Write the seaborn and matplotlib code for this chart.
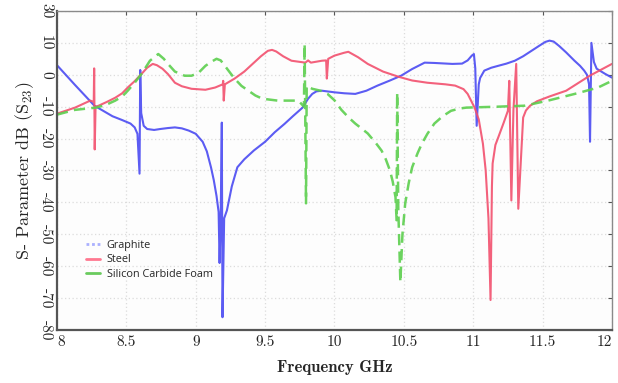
import numpy as np
import pandas as pd
import matplotlib
matplotlib.use("Agg")
import matplotlib.pyplot as plt
from matplotlib.lines import Line2D
import seaborn as sns

# ---------------- data ----------------
graphite_f = [8.00, 8.13, 8.27, 8.40, 8.47, 8.53, 8.56, 8.58, 8.595, 8.600, 8.607, 8.625,
              8.65, 8.70, 8.745, 8.80, 8.85, 8.90, 8.95, 9.00, 9.05, 9.08, 9.11, 9.13,
              9.15, 9.165, 9.172, 9.18, 9.188, 9.193, 9.205, 9.225, 9.26, 9.30, 9.35,
              9.42, 9.50, 9.57, 9.64, 9.70, 9.77, 9.81, 9.84, 9.87, 9.91, 10.00, 10.07,
              10.15, 10.23, 10.31, 10.40, 10.48, 10.56, 10.65, 10.72, 10.85, 10.92, 10.96,
              10.99, 11.005, 11.015, 11.025, 11.04, 11.05, 11.08, 11.13, 11.18, 11.24,
              11.30, 11.36, 11.42, 11.48, 11.52, 11.55, 11.58, 11.62, 11.67, 11.73, 11.77,
              11.80, 11.82, 11.835, 11.842, 11.852, 11.87, 11.89, 11.95, 12.00]
graphite_db = [3, -3.2, -9.7, -13, -14.2, -15.3, -16.5, -18.5, -31, 1.5, -12, -16,
               -17, -17.3, -17, -16.7, -16.5, -16.8, -17.5, -18.5, -21, -24, -29, -33,
               -38, -43, -59, -45, -15, -76, -45, -42.5, -35, -29, -26.5,
               -23.7, -21, -18, -15.4, -13, -10.3, -7.5, -6, -5.2, -5, -5.5, -5.8,
               -6, -5, -3.4, -1.8, -0.3, 1.8, 3.8, 3.7, 3.4, 3.5, 4.5,
               6, 6.5, 2, -16, -3, -1, 1.3, 2.2, 2.8, 3.5,
               4.4, 5.8, 7.5, 9.2, 10.3, 10.7, 10.4, 9, 7, 4.4, 2.8,
               1.3, 0, -3, -21, 10, 4, 1.9, 0.3, -0.9]

steel_f = [8.00, 8.13, 8.24, 8.265, 8.268, 8.272, 8.278, 8.30, 8.36, 8.42, 8.47, 8.51,
           8.56, 8.61, 8.65, 8.69, 8.72, 8.76, 8.80, 8.85, 8.90, 8.97, 9.07, 9.14,
           9.195, 9.198, 9.202, 9.21, 9.28, 9.35, 9.41, 9.47, 9.52, 9.55, 9.58, 9.63,
           9.69, 9.79, 9.81, 9.83, 9.91, 9.94, 9.945, 9.955, 10.00, 10.07, 10.10, 10.17,
           10.24, 10.35, 10.46, 10.56, 10.67, 10.80, 10.87, 10.93, 10.96, 11.01, 11.04,
           11.07, 11.09, 11.11, 11.125, 11.135, 11.14, 11.16, 11.18, 11.22, 11.25, 11.26,
           11.275, 11.29, 11.31, 11.325, 11.36, 11.38, 11.41, 11.46, 11.55, 11.67, 11.84,
           12.00]
steel_db = [-12.2, -10.3, -8.1, -8.5, 2, -23.4, -10, -9.7, -8.5, -7.2, -5.8, -4,
            -2, 0.3, 2.2, 3.4, 3, 1.9, 0.2, -2.5, -3.6, -4.4, -4.7, -4,
            -3, -1.9, -8.1, -3, -1.2, 1, 3.4, 5.8, 7.5, 7.8, 7.3, 5.8,
            4.4, 3.8, 4.5, 3.8, 4.4, 4.5, -1.2, 5, 6, 6.9, 7.2, 5.5,
            3.4, 1, -0.6, -1.8, -2.5, -3, -3.4, -4.5, -6, -10.3, -14,
            -21.6, -30, -45, -70.6, -35, -27.8, -22, -19.7, -15, -11.3, -1.9,
            -39.4, -11, 3.4, -42, -13.4, -11.2, -9.7, -8.3, -6.8, -5, -0.3,
            3.4]

sic_f = [8.00, 8.13, 8.28, 8.35, 8.42, 8.47, 8.51, 8.56, 8.61, 8.67, 8.73, 8.77,
         8.80, 8.85, 8.92, 8.97, 9.02, 9.07, 9.11, 9.15, 9.18, 9.21, 9.25, 9.28,
         9.33, 9.38, 9.43, 9.48, 9.59, 9.74, 9.78, 9.785, 9.795, 9.80, 9.84, 9.90,
         9.95, 10.00, 10.05, 10.10, 10.15, 10.20, 10.24, 10.30, 10.34, 10.37, 10.40,
         10.42, 10.44, 10.448, 10.452, 10.46, 10.475, 10.49, 10.51, 10.535, 10.56, 10.60,
         10.63, 10.67, 10.72, 10.78, 10.84, 10.90, 10.95, 11.18, 11.37, 11.54, 11.75,
         11.90, 12.00]
sic_db = [-12.5, -11, -10.3, -9.5, -8.1, -6.8, -5, -2.5, 0.3, 4.4, 6.5, 5,
          3.4, 1, -0.3, -0.3, 0.6, 2.8, 4, 5, 4.5, 2.8, 0.5, -1.2,
          -3.5, -5, -6.5, -7.5, -8.1, -8.1, -10, 9.7, -40.3, -3.5, -4.4, -5,
          -6, -8, -11, -13.3, -15.3, -17, -18.4, -21.5, -23.8, -26.5, -30,
          -33.5, -38.4, -45.6, -5.6, -42, -65, -50, -40.3, -34, -29, -24.5,
          -21.6, -18.5, -15.3, -13, -11.3, -10.6, -10.3, -10, -9.7, -8.1, -5.8,
          -4, -1.9]

series_names = ["Graphite", "Steel", "Silicon Carbide Foam"]
x_ticks = [8, 8.5, 9, 9.5, 10, 10.5, 11, 11.5, 12]
x_tick_labels = ["8", "8.5", "9", "9.5", "10", "10.5", "11", "11.5", "12"]
y_ticks = [-80, -70, -60, -50, -40, -30, -20, -10, 0, 10, 20]
y_tick_labels = ["-80", "-70", "-60", "-50", "-40", "-30", "-20", "-10", "0", "10", "30"]

# ---------------- styling ----------------
sns.set_theme(style="white")
plt.rcParams["font.family"] = ["cmr10", "DejaVu Serif"]
plt.rcParams["mathtext.fontset"] = "cm"
plt.rcParams["axes.unicode_minus"] = False

c_graphite = "#4a4af2"
c_steel = "#f2506e"
c_sic = "#5ccf4e"

fig = plt.figure(figsize=(6.18, 3.83), dpi=100)
ax = fig.add_axes([0.0922, 0.1384, 0.898, 0.833])
ax.set_facecolor("#fdfdfd")

df_g = pd.DataFrame({"f": graphite_f, "db": graphite_db})
df_s = pd.DataFrame({"f": steel_f, "db": steel_db})
df_c = pd.DataFrame({"f": sic_f, "db": sic_db})

sns.lineplot(data=df_g, x="f", y="db", ax=ax, color=c_graphite, lw=1.5,
             estimator=None, sort=False, alpha=0.9)
sns.lineplot(data=df_s, x="f", y="db", ax=ax, color=c_steel, lw=1.5,
             estimator=None, sort=False, alpha=0.9)
sns.lineplot(data=df_c, x="f", y="db", ax=ax, color=c_sic, lw=1.8,
             estimator=None, sort=False, alpha=0.9)
ax.lines[-1].set_dashes([4.5, 2.5])

ax.set_xlim(8, 12)
ax.set_ylim(-80, 20)
ax.set_xticks(x_ticks)
ax.set_xticklabels(x_tick_labels, fontsize=11)
ax.set_yticks(y_ticks)
ax.set_yticklabels(y_tick_labels, fontsize=11, rotation=270, va="center")
xl = ax.get_xticklabels()
xl[0].set_ha("left")
xl[-1].set_ha("right")

ax.grid(True, color="#dcdcdc", linestyle=(0, (1, 2)), linewidth=0.9)
ax.tick_params(direction="in", top=True, right=True, length=3, width=0.8,
               color="#555555", pad=4)
ax.tick_params(axis="y", pad=3)
for side in ["left", "bottom"]:
    ax.spines[side].set_color("#555555")
    ax.spines[side].set_linewidth(1.6)
for side in ["top", "right"]:
    ax.spines[side].set_color("#8a8a8a")
    ax.spines[side].set_linewidth(1.0)

ax.set_xlabel("Frequency GHz", fontsize=12, fontweight="bold",
              family=["cmb10", "DejaVu Serif"], labelpad=8)
ax.set_ylabel(r"S- Parameter dB (S$_{23}$)", fontsize=13, labelpad=2)

handles = [
    Line2D([0, 1], [0, 0], color="#aab0ff", lw=2, linestyle=(0, (1, 1))),
    Line2D([0, 1], [0, 0], color="#ff7890", lw=2, linestyle="solid"),
    Line2D([0, 1], [0, 0], color="#6acb5e", lw=2, linestyle="solid"),
]
leg = ax.legend(handles=handles, labels=series_names, loc="center left",
                bbox_to_anchor=(0.035, 0.22), frameon=False, handlelength=1.3,
                handletextpad=0.6, labelspacing=0.3,
                prop={"family": "Open Sans", "size": 7.8})
legline = leg.get_lines()
legline[1].set_linestyle("solid")
legline[2].set_linestyle("solid")

fig.savefig("out.png", dpi=100, facecolor="white")
